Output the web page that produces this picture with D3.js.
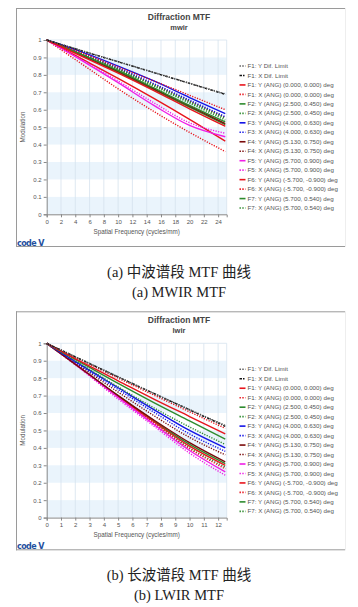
<!DOCTYPE html>
<html><head><meta charset="utf-8">
<script src="https://cdn.jsdelivr.net/npm/d3@7"></script>
<style>body{margin:0;background:#fff}svg{display:block}</style>
</head><body><svg id="c" width="358" height="607"></svg>
<script>
// ---------- data ----------
const seriesNames = [
 "F1: Y Dif. Limit","F1: X Dif. Limit",
 "F1: Y (ANG) (0.000, 0.000) deg","F1: X (ANG) (0.000, 0.000) deg",
 "F2: Y (ANG) (2.500, 0.450) deg","F2: X (ANG) (2.500, 0.450) deg",
 "F3: Y (ANG) (4.000, 0.630) deg","F3: X (ANG) (4.000, 0.630) deg",
 "F4: Y (ANG) (5.130, 0.750) deg","F4: X (ANG) (5.130, 0.750) deg",
 "F5: Y (ANG) (5.700, 0.900) deg","F5: X (ANG) (5.700, 0.900) deg",
 "F6: Y (ANG) (-5.700, -0.900) deg","F6: X (ANG) (-5.700, -0.900) deg",
 "F7: Y (ANG) (5.700, 0.540) deg","F7: X (ANG) (5.700, 0.540) deg"];
const seriesColors = ["#555555","#111111","#e8141c","#e8141c","#2e8b2e","#2e8b2e","#1414e6","#1414e6",
 "#7a0a0a","#7a0a0a","#f01ee6","#f01ee6","#e8141c","#e8141c","#2e8b2e","#2e8b2e"];
const seriesDotted = [true,true,false,true,false,true,false,true,false,true,false,true,false,true,false,true];

const mwirFreq = [0,5,10,15,20,25];
const mwirValues = [
 [1,.938,.876,.814,.752,.691],
 [1,.937,.875,.813,.751,.688],
 [1,.905,.81,.71,.605,.505],
 [1,.925,.845,.765,.683,.60],
 [1,.915,.825,.725,.625,.53],
 [1,.918,.832,.74,.645,.55],
 [1,.93,.85,.765,.67,.578],
 [1,.922,.84,.75,.655,.56],
 [1,.912,.82,.72,.62,.52],
 [1,.918,.835,.745,.65,.555],
 [1,.88,.755,.625,.51,.445],
 [1,.885,.765,.64,.525,.465],
 [1,.89,.78,.665,.545,.42],
 [1,.86,.72,.59,.47,.36],
 [1,.91,.815,.715,.615,.515],
 [1,.916,.828,.735,.638,.54]];
const mwirTicks = [0,2,4,6,8,10,12,14,16,18,20,22,24];

const lwirFreq = [0,2.5,5,7.5,10,12.5];
const lwirValues = [
 [1,.904,.808,.713,.620,.529],
 [1,.903,.807,.712,.618,.524],
 [1,.89,.785,.68,.58,.48],
 [1,.9,.8,.703,.607,.512],
 [1,.885,.77,.66,.555,.45],
 [1,.875,.75,.63,.52,.42],
 [1,.87,.745,.62,.50,.40],
 [1,.865,.735,.605,.48,.38],
 [1,.85,.70,.56,.43,.32],
 [1,.86,.72,.585,.46,.36],
 [1,.85,.69,.535,.385,.262],
 [1,.845,.68,.525,.37,.243],
 [1,.85,.695,.55,.41,.30],
 [1,.848,.69,.54,.395,.28],
 [1,.85,.70,.555,.42,.31],
 [1,.848,.692,.545,.40,.29]];
const lwirTicks = [0,1,2,3,4,5,6,7,8,9,10,11,12];

const yTicks = [0,0.1,0.2,0.3,0.4,0.5,0.6,0.7,0.8,0.9,1];

// ---------- drawing ----------
const svg = d3.select("#c");
const sans = "'Liberation Sans', Arial, sans-serif";

function panel(oy, subtitle, freq, values, xmax, ticks, capCN, capEN) {
  const g = svg.append("g").attr("transform", `translate(0,${oy})`);
  // frame
  g.append("line").attr("x1",16).attr("x2",345).attr("y1",8.5).attr("y2",8.5).attr("stroke","#9a9a9a");
  g.append("line").attr("x1",16.5).attr("x2",16.5).attr("y1",8).attr("y2",247).attr("stroke","#9a9a9a");
  g.append("line").attr("x1",16).attr("x2",345).attr("y1",246.5).attr("y2",246.5).attr("stroke","#9a9a9a");
  g.append("line").attr("x1",345.5).attr("x2",345.5).attr("y1",8).attr("y2",247).attr("stroke","#eeeeee");

  const x = d3.scaleLinear().domain([0,xmax]).range([46.7,226.7]);
  const y = d3.scaleLinear().domain([0,1]).range([214.3,40]);

  // bands
  for (let i=0;i<10;i+=2){
    g.append("rect").attr("x",x(0)).attr("width",x(xmax)-x(0))
     .attr("y",y(yTicks[i+1])).attr("height",y(yTicks[i])-y(yTicks[i+1])).attr("fill","#eaf4fc");
  }
  // vertical grid
  g.selectAll(".vg").data(ticks.filter(t=>t>0)).enter().append("line")
   .attr("x1",d=>x(d)).attr("x2",d=>x(d)).attr("y1",y(1)).attr("y2",y(0))
   .attr("stroke","#d6e2ee").attr("stroke-width",0.8);
  g.append("line").attr("x1",x(xmax)).attr("x2",x(xmax)).attr("y1",y(1)).attr("y2",y(0)).attr("stroke","#d6e2ee").attr("stroke-width",0.8);
  g.append("line").attr("x1",x(0)).attr("x2",x(xmax)).attr("y1",y(1)).attr("y2",y(1)).attr("stroke","#d6e2ee").attr("stroke-width",0.8);

  // axes
  const ya = g.append("g").attr("transform",`translate(${x(0)},0)`)
    .call(d3.axisLeft(y).tickValues(yTicks).tickFormat(d=>d3.format("~g")(d)).tickSize(3).tickPadding(2));
  const xa = g.append("g").attr("transform",`translate(0,${y(0)})`)
    .call(d3.axisBottom(x).tickValues(ticks).tickSize(3).tickPadding(2));
  [ya,xa].forEach(a=>{
    a.selectAll("path,line").attr("stroke","#888");
    a.selectAll("text").attr("fill","#555").attr("font-size","6px").attr("font-family",sans);
  });

  // lines
  const line = d3.line().x((d,i)=>x(freq[i])).y(d=>y(d)).curve(d3.curveMonotoneX);
  const order = values.map((v,i)=>i).reverse();
  order.forEach(i=>{
    g.append("path").attr("d",line(values[i])).attr("fill","none")
     .attr("stroke",seriesColors[i]).attr("stroke-width",1.4)
     .attr("stroke-dasharray", seriesDotted[i] ? (i===1?"2.5,1.2,1,1.2":"1.2,1.4") : null);
  });

  // titles
  g.append("text").attr("x",179).attr("y",20).attr("text-anchor","middle")
   .attr("font-family",sans).attr("font-weight","bold").attr("font-size","8.5px").attr("fill","#444").text("Diffraction MTF");
  g.append("text").attr("x",179).attr("y",30).attr("text-anchor","middle")
   .attr("font-family",sans).attr("font-weight","bold").attr("font-size","7.5px").attr("fill","#444").text(subtitle);

  // axis titles
  g.append("text").attr("transform",`translate(25,127) rotate(-90)`).attr("text-anchor","middle")
   .attr("font-family",sans).attr("font-size","6.3px").attr("fill","#555").text("Modulation");
  g.append("text").attr("x",136.7).attr("y",234).attr("text-anchor","middle")
   .attr("font-family",sans).attr("font-size","6.3px").attr("fill","#555").text("Spatial Frequency (cycles/mm)");

  // legend
  seriesNames.forEach((n,i)=>{
    const ly = 66 + i*9.47;
    g.append("line").attr("x1",239.5).attr("x2",245.5).attr("y1",ly).attr("y2",ly)
     .attr("stroke",seriesColors[i]).attr("stroke-width",1.6)
     .attr("stroke-dasharray", seriesDotted[i] ? (i===1?"2.5,1,1.5":"1.4,1.4") : null);
    g.append("text").attr("x",247.5).attr("y",ly+2.1).attr("font-family",sans)
     .attr("font-size","6.2px").attr("fill","#555").text(n);
  });

  // logo
  g.append("text").attr("x",17).attr("y",246).attr("font-family","'DejaVu Sans', sans-serif")
   .attr("font-weight","bold").attr("font-size","8px").attr("fill","#1f4fa0").attr("letter-spacing","-0.6px").text("code V");

  // captions
  g.append("text").attr("x",179).attr("y",277).attr("text-anchor","middle")
   .attr("font-family","'Liberation Serif','Noto Sans CJK SC',serif").attr("font-size","14.5px").attr("fill","#222")
   .text(capCN);
  g.append("text").attr("x",179).attr("y",297).attr("text-anchor","middle")
   .attr("font-family","'Liberation Serif',serif").attr("font-size","14.5px").attr("fill","#222")
   .text(capEN);
}

panel(0, "mwir", mwirFreq, mwirValues, 25.2, mwirTicks, "(a)  中波谱段 MTF 曲线", "(a) MWIR MTF");
panel(303.3, "lwir", lwirFreq, lwirValues, 12.6, lwirTicks, "(b)  长波谱段 MTF 曲线", "(b) LWIR MTF");
</script></body></html>
